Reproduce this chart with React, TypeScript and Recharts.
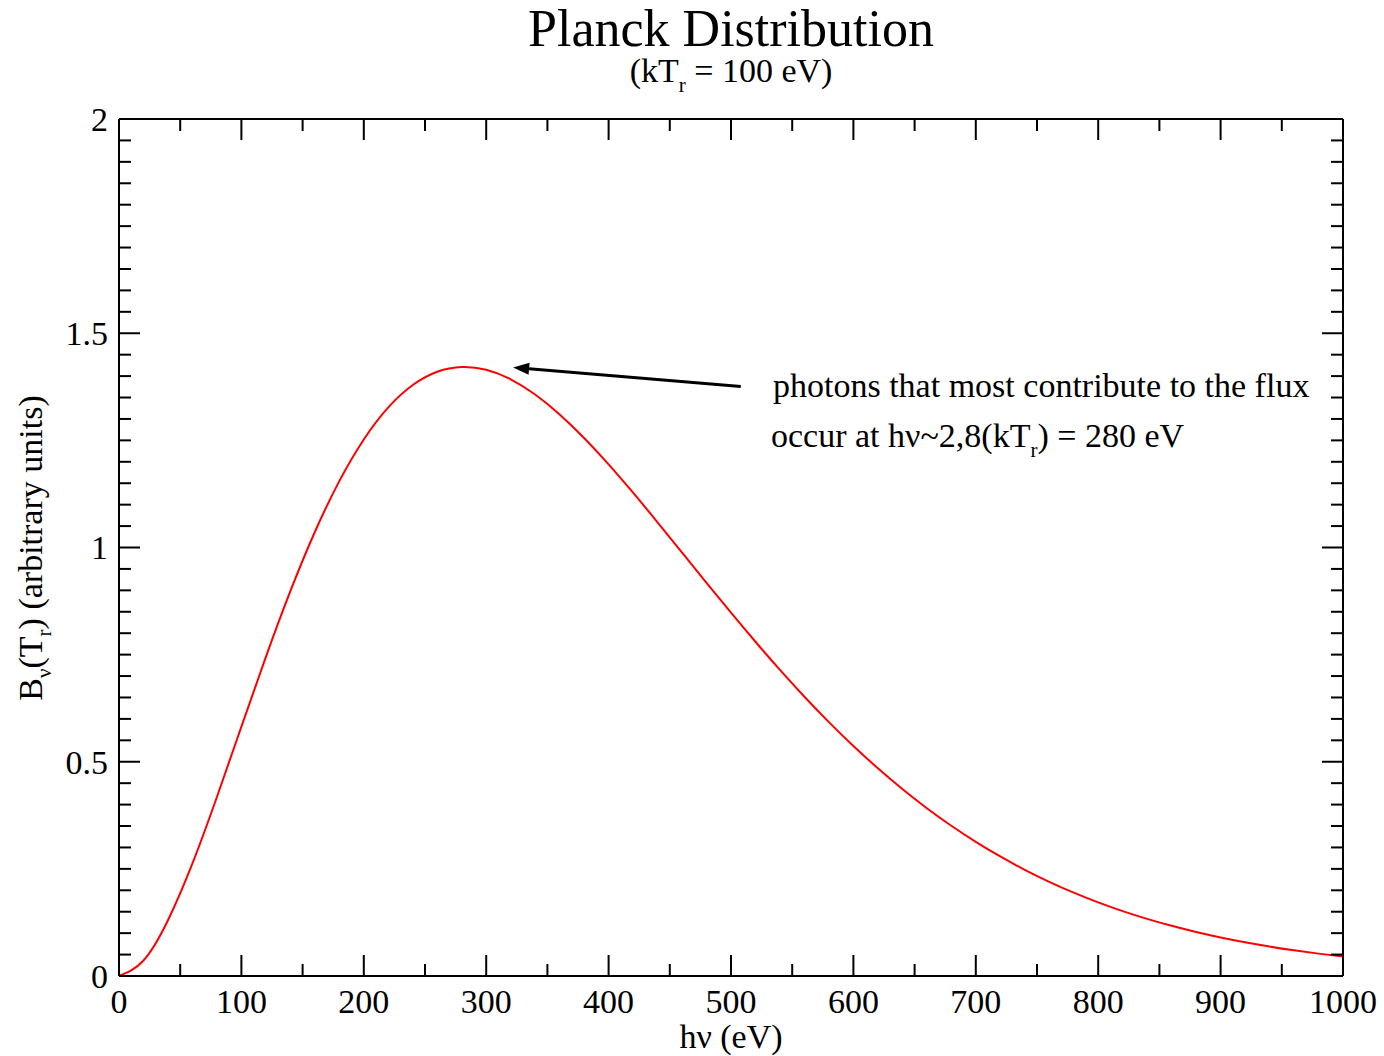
import React from "react";
import {
  Customized,
  Line,
  LineChart,
  ReferenceLine,
  XAxis,
  YAxis,
} from "recharts";

// photon energy hν (eV), step 20
const photonEnergy = [
  0, 20, 40, 60, 80, 100, 120, 140, 160, 180, 200, 220, 240, 260, 280, 300,
  320, 340, 360, 380, 400, 420, 440, 460, 480, 500, 520, 540, 560, 580, 600,
  620, 640, 660, 680, 700, 720, 740, 760, 780, 800, 820, 840, 860, 880, 900,
  920, 940, 960, 980, 1000,
];

// B_ν(T_r), arbitrary units
const planckIntensity = [
  0, 0.0361, 0.1301, 0.2627, 0.4178, 0.582, 0.7448, 0.8981, 1.0362, 1.1549,
  1.2521, 1.3269, 1.3792, 1.4102, 1.4213, 1.4147, 1.3925, 1.357, 1.3106,
  1.2556, 1.1941, 1.1279, 1.0588, 0.9883, 0.9177, 0.848, 0.78, 0.7144, 0.6518,
  0.5925, 0.5367, 0.4847, 0.4363, 0.3916, 0.3506, 0.3131, 0.2789, 0.2478,
  0.2198, 0.1945, 0.1718, 0.1515, 0.1333, 0.1171, 0.1027, 0.09, 0.0787,
  0.0687, 0.0599, 0.0522, 0.0454,
];

const xTicks = [
  0, 50, 100, 150, 200, 250, 300, 350, 400, 450, 500, 550, 600, 650, 700, 750,
  800, 850, 900, 950, 1000,
];

const yTicks = [
  0, 0.05, 0.1, 0.15, 0.2, 0.25, 0.3, 0.35, 0.4, 0.45, 0.5, 0.55, 0.6, 0.65,
  0.7, 0.75, 0.8, 0.85, 0.9, 0.95, 1, 1.05, 1.1, 1.15, 1.2, 1.25, 1.3, 1.35,
  1.4, 1.45, 1.5, 1.55, 1.6, 1.65, 1.7, 1.75, 1.8, 1.85, 1.9, 1.95, 2,
];

// arrow in data coords: tail near the text, head at the peak
const arrowTail = { x: 508, y: 1.376 };
const arrowHead = { x: 322, y: 1.42 };

const data = photonEnergy.map((e, i) => ({ e, b: planckIntensity[i] }));

const FONT = "'Liberation Serif', 'DejaVu Serif', serif";
const MAJOR = 21;
const MINOR = 12;
const FS = 34;
const PLOT_W = 1224; // left axis at 119, right frame at 1343

const isMajorX = (v: number) => v % 100 === 0;
const isMajorY = (v: number) => Math.abs(v * 2 - Math.round(v * 2)) < 1e-6;

function BottomTick({ x, y, payload }: any) {
  const v = payload.value;
  const major = isMajorX(v);
  return (
    <g>
      <line x1={x} x2={x} y1={y} y2={y - (major ? MAJOR : MINOR)} stroke="#000" strokeWidth={2} />
      {major && (
        <text x={x} y={y + 37} textAnchor="middle" fontFamily={FONT} fontSize={FS} fill="#000">
          {v}
        </text>
      )}
    </g>
  );
}

function TopTick({ x, y, payload }: any) {
  const major = isMajorX(payload.value);
  return <line x1={x} x2={x} y1={y} y2={y + (major ? MAJOR : MINOR)} stroke="#000" strokeWidth={2} />;
}

// left ticks + label, and the mirrored ticks on the right frame
function LeftTick({ x, y, payload }: any) {
  const v = payload.value;
  const major = isMajorY(v);
  const len = major ? MAJOR : MINOR;
  const xr = x + PLOT_W;
  return (
    <g>
      <line x1={x} x2={x + len} y1={y} y2={y} stroke="#000" strokeWidth={2} />
      <line x1={xr} x2={xr - len} y1={y} y2={y} stroke="#000" strokeWidth={2} />
      {major && (
        <text x={x - 11} y={y} dy="0.35em" textAnchor="end" fontFamily={FONT} fontSize={FS} fill="#000">
          {String(v)}
        </text>
      )}
    </g>
  );
}

function Arrow(props: any) {
  const { x1, y1, x2, y2 } = props;
  const ang = Math.atan2(y2 - y1, x2 - x1);
  const len = 16;
  const half = 6;
  const bx = x2 - len * Math.cos(ang);
  const by = y2 - len * Math.sin(ang);
  const px = -Math.sin(ang) * half;
  const py = Math.cos(ang) * half;
  return (
    <g>
      <line x1={x1} y1={y1} x2={bx} y2={by} stroke="#000" strokeWidth={3} />
      <polygon points={`${x2},${y2} ${bx + px},${by + py} ${bx - px},${by - py}`} fill="#000" />
    </g>
  );
}

function Texts() {
  return (
    <g fontFamily={FONT} fill="#000">
      <text x={731} y={46} textAnchor="middle" fontSize={52}>
        Planck Distribution
      </text>
      <text x={731} y={82} textAnchor="middle" fontSize={FS}>
        <tspan>(kT</tspan>
        <tspan dy={10} fontSize={21}>r</tspan>
        <tspan dy={-10}> = 100 eV)</tspan>
      </text>
      <text x={731} y={1048} textAnchor="middle" fontSize={FS}>
        hν (eV)
      </text>
      <text transform="translate(42, 548) rotate(-90)" textAnchor="middle" fontSize={FS}>
        <tspan>B</tspan>
        <tspan dy={9} fontSize={21}>ν</tspan>
        <tspan dy={-9}>(T</tspan>
        <tspan dy={9} fontSize={21}>r</tspan>
        <tspan dy={-9}>) (arbitrary units)</tspan>
      </text>
      <text x={773} y={397} fontSize={FS}>
        photons that most contribute to the flux
      </text>
      <text x={771} y={447} fontSize={FS}>
        <tspan>occur at hν~2,8(kT</tspan>
        <tspan dy={10} fontSize={21}>r</tspan>
        <tspan dy={-10}>) = 280 eV</tspan>
      </text>
    </g>
  );
}

export default function App() {
  return (
    <div style={{ position: "absolute", left: 0, top: 0, background: "#fff" }}>
      <LineChart
        width={1384}
        height={1056}
        data={data}
        margin={{ top: 118, right: 40, bottom: 0, left: 0 }}
      >
        <XAxis
          dataKey="e"
          type="number"
          domain={[0, 1000]}
          ticks={xTicks}
          interval={0}
          height={80}
          tickSize={0}
          tickMargin={0}
          tickLine={false}
          axisLine={{ stroke: "#000", strokeWidth: 2 }}
          tick={<BottomTick />}
        />
        <XAxis
          xAxisId="top"
          orientation="top"
          dataKey="e"
          type="number"
          domain={[0, 1000]}
          ticks={xTicks}
          interval={0}
          height={1}
          tickSize={0}
          tickMargin={0}
          tickLine={false}
          axisLine={{ stroke: "#000", strokeWidth: 2 }}
          tick={<TopTick />}
        />
        <YAxis
          type="number"
          domain={[0, 2]}
          ticks={yTicks}
          interval={0}
          width={119}
          tickSize={0}
          tickMargin={0}
          tickLine={false}
          axisLine={{ stroke: "#000", strokeWidth: 2 }}
          tick={<LeftTick />}
        />
        <YAxis
          yAxisId="right"
          orientation="right"
          type="number"
          domain={[0, 2]}
          width={1}
          tick={false}
          tickLine={false}
          axisLine={{ stroke: "#000", strokeWidth: 2 }}
        />
        <Line
          type="natural"
          dataKey="b"
          stroke="#ff0000"
          strokeWidth={2}
          dot={false}
          activeDot={false}
          isAnimationActive={false}
        />
        <ReferenceLine
          segment={[arrowTail, arrowHead]}
          shape={(p: any) => <Arrow {...p} />}
        />
        <Customized component={<Texts />} />
      </LineChart>
    </div>
  );
}
